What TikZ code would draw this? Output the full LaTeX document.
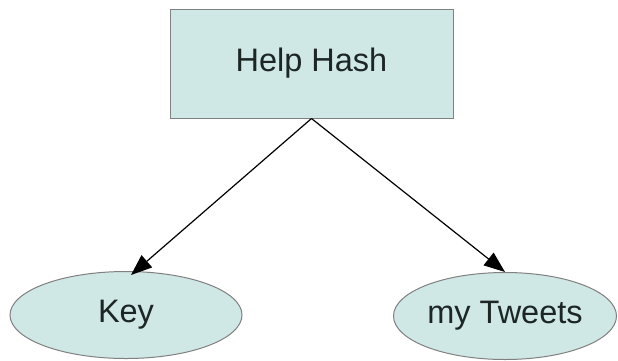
\documentclass[tikz,border=0pt]{standalone}
\usepackage{fontspec}
\setmainfont{Liberation Sans}
\usetikzlibrary{arrows.meta,shapes,positioning,calc}
\definecolor{hashfill}{HTML}{CFE7E5}
\definecolor{hashline}{HTML}{808080}
\definecolor{hashtext}{HTML}{1C2624}
\tikzset{
    hashbox/.style={
        rectangle,
        draw=hashline,
        fill=hashfill,
        line width=1pt,
        minimum width=283pt,
        minimum height=109pt,
        text=hashtext,
        font=\fontsize{32.5}{38}\selectfont,
    },
    leaf/.style={
        ellipse,
        draw=hashline,
        fill=hashfill,
        line width=1pt,
        inner sep=0pt,
        minimum height=87pt,
        text=hashtext,
        font=\fontsize{32.5}{38}\selectfont,
    },
    every edge/.style={
        draw,
        -{Triangle[length=21pt,width=16pt]},
        line width=1.2pt
    },
  }

\begin{document}
\begin{tikzpicture}[x=1pt,y=-1pt]
              \useasboundingbox (0,0) rectangle (618,360);
              \node [hashbox] (help) at (311.5,63.5) {Help Hash};
              \node [leaf,minimum width=232pt] (key) at (126,315) {Key};
              \node [leaf,minimum width=223pt] (tweets) at (505,316) {my Tweets};

              \draw (help.south) edge ($(key.north)+(5,4)$);
              \draw (help.south) edge (tweets.north);
            \end{tikzpicture}
\end{document}
